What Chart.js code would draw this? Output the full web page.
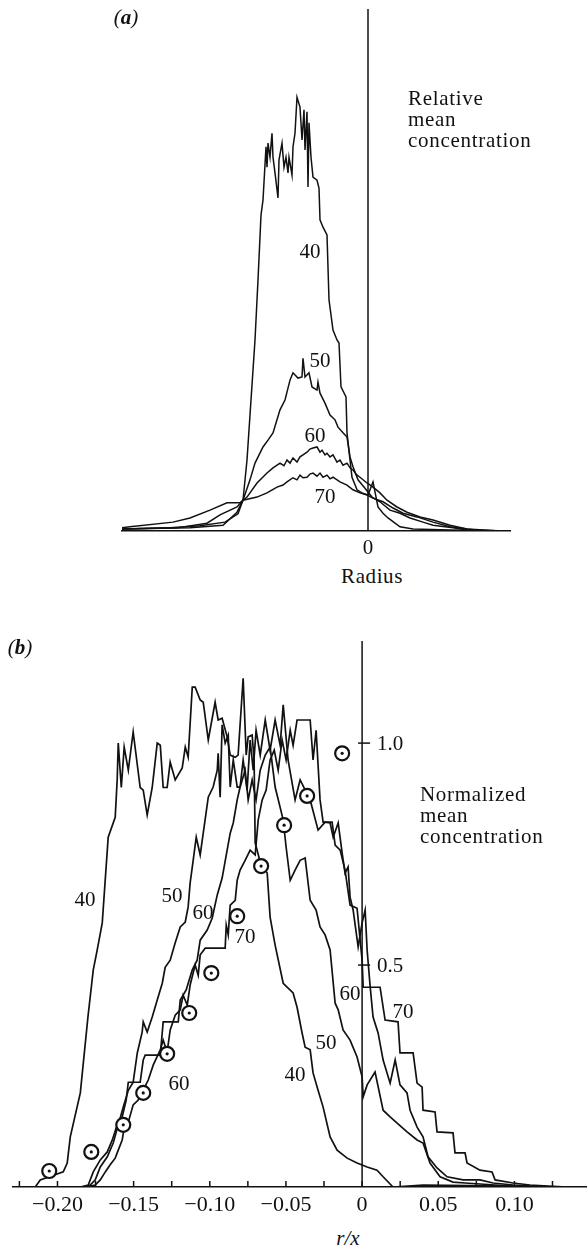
<!DOCTYPE html>
<html>
<head>
<meta charset="utf-8">
<script src="https://cdn.jsdelivr.net/npm/chart.js@4.4.0/dist/chart.umd.min.js"></script>
<style>
  body { margin: 0; background: #fff; width: 588px; height: 1251px; position: relative; overflow: hidden;
         font-family: "Liberation Serif", "Times New Roman", serif; color: #111; }
  canvas { position: absolute; left: 0; }
  #chartA { top: 0; }
  #chartB { top: 600px; }
  .lbl { position: absolute; font-size: 21px; line-height: 21px; transform: translate(-50%, -50%); white-space: nowrap; }
  .side { position: absolute; font-size: 21px; line-height: 21px; letter-spacing: 0.7px; white-space: nowrap; }
  .it { font-style: italic; }
</style>
</head>
<body>
<canvas id="chartA" width="588" height="561"></canvas>
<canvas id="chartB" width="588" height="617"></canvas>

<!-- panel (a) text -->
<div class="lbl it" style="left:126px;top:17px">(<b>a</b>)</div>
<div class="side" style="left:408px;top:88px">Relative<br>mean<br>concentration</div>
<div class="lbl" style="left:310px;top:251px">40</div>
<div class="lbl" style="left:320px;top:360px">50</div>
<div class="lbl" style="left:315px;top:435px">60</div>
<div class="lbl" style="left:325px;top:496px">70</div>
<div class="lbl" style="left:372px;top:576px;letter-spacing:0.6px">Radius</div>

<!-- panel (b) text -->
<div class="lbl it" style="left:20px;top:647px">(<b>b</b>)</div>
<div class="side" style="left:420px;top:784px">Normalized<br>mean<br>concentration</div>
<div class="lbl" style="left:85px;top:899px">40</div>
<div class="lbl" style="left:172px;top:895px">50</div>
<div class="lbl" style="left:203px;top:912px">60</div>
<div class="lbl" style="left:245px;top:936px">70</div>
<div class="lbl" style="left:179px;top:1083px">60</div>
<div class="lbl" style="left:295px;top:1074px">40</div>
<div class="lbl" style="left:326px;top:1042px">50</div>
<div class="lbl" style="left:350px;top:993px">60</div>
<div class="lbl" style="left:403px;top:1011px">70</div>
<div class="lbl it" style="left:348px;top:1238px">r/x</div>

<script>
// ---- panel (a): relative mean concentration against radius (radius in arbitrary units, 0 = axis)
const aX40 = [-2.46,-1.98,-1.68,-1.43,-1.30,-1.25,-1.21,-1.17,-1.13,-1.10,-1.07,-1.05,-1.02,-1.01,-1.00,-0.98,-0.96,-0.95,-0.93,-0.90,-0.89,-0.86,-0.84,-0.82,-0.80,-0.79,-0.76,-0.75,-0.73,-0.71,-0.68,-0.66,-0.64,-0.63,-0.61,-0.60,-0.59,-0.57,-0.55,-0.51,-0.49,-0.48,-0.45,-0.41,-0.39,-0.35,-0.31,-0.29,-0.27,-0.22,-0.21,-0.18,-0.16,-0.11,-0.06,0,0.05,0.10,0.15,0.20,0.32,0.45,0.82,1.42];
const aY40 = [0.004,0.006,0.010,0.017,0.033,0.059,0.136,0.251,0.366,0.481,0.605,0.634,0.736,0.697,0.743,0.716,0.762,0.716,0.686,0.638,0.711,0.743,0.697,0.716,0.686,0.716,0.682,0.736,0.762,0.831,0.812,0.749,0.807,0.730,0.803,0.659,0.782,0.716,0.678,0.672,0.657,0.596,0.582,0.567,0.443,0.385,0.366,0.360,0.276,0.257,0.188,0.136,0.103,0.079,0.073,0.069,0.094,0.046,0.034,0.025,0.008,0.004,0.002,0];
const aX50 = [-2.46,-1.78,-1.45,-1.31,-1.25,-1.18,-1.13,-1.05,-1.00,-0.95,-0.88,-0.83,-0.78,-0.75,-0.70,-0.66,-0.65,-0.63,-0.59,-0.56,-0.51,-0.50,-0.48,-0.43,-0.38,-0.33,-0.30,-0.25,-0.21,-0.18,-0.15,-0.10,-0.03,0.04,0.12,0.22,0.32,0.42,0.55,0.65,0.85,0.99,1.42];
const aY50 = [0.004,0.006,0.011,0.036,0.059,0.098,0.130,0.161,0.174,0.188,0.232,0.251,0.289,0.303,0.293,0.295,0.331,0.295,0.303,0.276,0.270,0.285,0.264,0.245,0.222,0.213,0.199,0.188,0.180,0.142,0.123,0.098,0.082,0.065,0.056,0.040,0.034,0.025,0.017,0.011,0.006,0.002,0];
const aX60 = [-2.46,-1.91,-1.61,-1.48,-1.31,-1.25,-1.21,-1.11,-1.01,-0.95,-0.88,-0.84,-0.81,-0.78,-0.75,-0.71,-0.68,-0.65,-0.61,-0.58,-0.55,-0.51,-0.48,-0.46,-0.43,-0.41,-0.38,-0.35,-0.31,-0.28,-0.25,-0.21,-0.18,-0.15,-0.11,-0.08,-0.01,0.05,0.12,0.19,0.29,0.39,0.52,0.65,0.82,0.99,1.15,1.42];
const aY60 = [0.004,0.006,0.015,0.031,0.046,0.059,0.065,0.092,0.111,0.121,0.130,0.125,0.136,0.130,0.140,0.132,0.142,0.146,0.151,0.157,0.159,0.161,0.151,0.155,0.146,0.149,0.142,0.146,0.132,0.136,0.126,0.130,0.121,0.117,0.107,0.103,0.092,0.084,0.073,0.059,0.046,0.036,0.027,0.021,0.011,0.004,0,0];
const aX70 = [-2.46,-2.38,-1.95,-1.78,-1.58,-1.41,-1.28,-1.25,-1.11,-1.01,-0.91,-0.85,-0.81,-0.75,-0.71,-0.68,-0.65,-0.61,-0.58,-0.55,-0.51,-0.48,-0.45,-0.41,-0.38,-0.35,-0.28,-0.21,-0.15,-0.08,-0.01,0.05,0.15,0.25,0.35,0.49,0.65,0.82,0.99,1.32,1.42];
const aY70 = [0.006,0.008,0.017,0.025,0.040,0.054,0.054,0.059,0.065,0.073,0.084,0.088,0.094,0.102,0.098,0.107,0.102,0.103,0.109,0.111,0.105,0.111,0.103,0.107,0.100,0.103,0.094,0.088,0.079,0.073,0.069,0.063,0.056,0.044,0.034,0.027,0.017,0.008,0.004,0,0];
const aTicks = [0];
const aTickLabels = ['0'];

// ---- panel (b): normalized mean concentration against r/x
const bX40 = [-0.2146,-0.2113,-0.1962,-0.1936,-0.1916,-0.1850,-0.1800,-0.1765,-0.1739,-0.1706,-0.1667,-0.1621,-0.1608,-0.1601,-0.1581,-0.1562,-0.1535,-0.1503,-0.1457,-0.1437,-0.1411,-0.1378,-0.1345,-0.1325,-0.1306,-0.1280,-0.1260,-0.1227,-0.1181,-0.1161,-0.1142,-0.1115,-0.1096,-0.1063,-0.1043,-0.1010,-0.0965,-0.0945,-0.0919,-0.0886,-0.0866,-0.0833,-0.0814,-0.0781,-0.0761,-0.0748,-0.0722,-0.0709,-0.0702,-0.0669,-0.0623,-0.0604,-0.0571,-0.0518,-0.0453,-0.0427,-0.0394,-0.0374,-0.0341,-0.0322,-0.0289,-0.0256,-0.0210,-0.0164,-0.0098,-0.0033,0.0033,0.0098,0.0138,0.0203,0.0400,0.0700,0.1000,0.1300];
const bY40 = [0,0.016,0.034,0.054,0.113,0.212,0.383,0.489,0.534,0.595,0.788,0.833,0.917,1.000,0.900,0.991,0.939,1.025,0.900,0.894,0.838,0.900,1.000,0.995,0.900,0.900,0.957,0.917,0.944,0.991,0.968,1.126,1.126,1.097,1.092,1.007,1.092,1.052,1.056,1.014,0.973,0.968,0.973,1.146,0.973,1.014,1.018,0.962,0.775,0.732,0.707,0.608,0.545,0.459,0.437,0.405,0.347,0.315,0.309,0.257,0.218,0.180,0.113,0.083,0.065,0.054,0.045,0.038,0.023,0,0.004,0.003,0.002,0];
const bX50 = [-0.1818,-0.1785,-0.1752,-0.1719,-0.1673,-0.1634,-0.1601,-0.1568,-0.1535,-0.1503,-0.1476,-0.1444,-0.1437,-0.1411,-0.1378,-0.1345,-0.1312,-0.1293,-0.1260,-0.1227,-0.1194,-0.1161,-0.1142,-0.1129,-0.1109,-0.1089,-0.1063,-0.1043,-0.1010,-0.0978,-0.0951,-0.0945,-0.0932,-0.0919,-0.0899,-0.0879,-0.0866,-0.0846,-0.0820,-0.0801,-0.0768,-0.0748,-0.0722,-0.0696,-0.0669,-0.0636,-0.0604,-0.0571,-0.0518,-0.0499,-0.0472,-0.0440,-0.0407,-0.0374,-0.0341,-0.0302,-0.0276,-0.0243,-0.0210,-0.0177,-0.0157,-0.0125,-0.0079,-0.0033,0,0.0007,0.0033,0.0085,0.0138,0.0184,0.0230,0.0295,0.0361,0.0400,0.0446,0.0512,0.0597,0.0676,0.0873,0.1102];
const bY50 = [0,0.0045,0.016,0.045,0.068,0.099,0.140,0.180,0.218,0.236,0.302,0.349,0.372,0.349,0.383,0.421,0.459,0.495,0.511,0.550,0.586,0.597,0.631,0.685,0.736,0.788,0.748,0.797,0.878,0.901,0.939,0.977,0.878,1.041,1.000,1.018,0.901,0.962,0.901,0.901,0.939,0.872,0.917,0.872,0.939,0.973,0.991,0.901,0.827,0.766,0.691,0.714,0.736,0.741,0.646,0.624,0.586,0.568,0.534,0.414,0.399,0.354,0.331,0.293,0.248,0.203,0.230,0.259,0.173,0.158,0.144,0.124,0.106,0.099,0.054,0.023,0.011,0.009,0.0045,0];
const bX60 = [-0.1850,-0.1798,-0.1765,-0.1719,-0.1673,-0.1640,-0.1608,-0.1575,-0.1549,-0.1535,-0.1457,-0.1437,-0.1424,-0.1325,-0.1306,-0.1207,-0.1194,-0.1155,-0.1115,-0.1083,-0.1063,-0.1017,-0.0984,-0.0951,-0.0919,-0.0886,-0.0866,-0.0846,-0.0820,-0.0801,-0.0781,-0.0755,-0.0735,-0.0715,-0.0696,-0.0669,-0.0636,-0.0604,-0.0571,-0.0538,-0.0518,-0.0486,-0.0440,-0.0407,-0.0341,-0.0289,-0.0243,-0.0210,-0.0190,-0.0157,-0.0131,-0.0112,-0.0092,-0.0079,-0.0059,-0.0026,0,0.0020,0.0033,0.0052,0.0072,0.0105,0.0138,0.0184,0.0217,0.0249,0.0295,0.0315,0.0361,0.0400,0.0433,0.0492,0.0558,0.0663,0.0774,0.0860,0.0991,0.1214];
const bY60 = [0,0.0045,0.034,0.061,0.079,0.106,0.140,0.158,0.196,0.236,0.236,0.286,0.297,0.297,0.372,0.372,0.421,0.444,0.489,0.511,0.556,0.579,0.606,0.658,0.696,0.759,0.797,0.820,0.872,0.901,0.962,0.894,1.007,0.939,1.029,0.973,1.052,0.984,1.052,0.995,1.086,0.962,0.872,0.917,0.872,0.804,0.822,0.820,0.788,0.820,0.752,0.707,0.721,0.653,0.624,0.541,0.595,0.624,0.534,0.455,0.383,0.347,0.286,0.234,0.286,0.230,0.212,0.173,0.135,0.113,0.068,0.043,0.023,0.016,0.016,0.009,0.0045,0];
const bX70 = [-0.1818,-0.1752,-0.1719,-0.1686,-0.1654,-0.1621,-0.1601,-0.1575,-0.1562,-0.1535,-0.1503,-0.1470,-0.1437,-0.1404,-0.1371,-0.1325,-0.1306,-0.1280,-0.1260,-0.1227,-0.1194,-0.1175,-0.1148,-0.1129,-0.1096,-0.1076,-0.1063,-0.1030,-0.0899,-0.0892,-0.0879,-0.0866,-0.0833,-0.0820,-0.0801,-0.0768,-0.0735,-0.0702,-0.0682,-0.0656,-0.0630,-0.0604,-0.0577,-0.0551,-0.0525,-0.0499,-0.0472,-0.0453,-0.0427,-0.0341,-0.0322,-0.0302,-0.0276,-0.0256,-0.0197,-0.0177,-0.0144,-0.0112,-0.0079,-0.0033,0,0.0007,0.0118,0.0151,0.0236,0.0249,0.0335,0.0361,0.0394,0.0400,0.0479,0.0492,0.0597,0.0610,0.0676,0.0689,0.0774,0.0853,0.0873,0.0991,0.1102,0.1345];
const bY70 = [0,0.0045,0.016,0.034,0.050,0.065,0.083,0.106,0.133,0.146,0.185,0.196,0.218,0.241,0.275,0.309,0.331,0.304,0.354,0.387,0.399,0.432,0.410,0.455,0.500,0.477,0.523,0.538,0.538,0.590,0.568,0.635,0.646,0.691,0.714,0.736,0.759,0.748,0.827,0.872,0.894,0.962,0.984,0.939,1.007,0.962,1.029,0.995,1.052,1.052,0.962,1.029,0.872,0.822,0.822,0.770,0.759,0.714,0.635,0.628,0.511,0.450,0.450,0.376,0.372,0.302,0.302,0.234,0.225,0.173,0.169,0.124,0.122,0.077,0.077,0.054,0.038,0.034,0.016,0.009,0.0045,0];
// circled points
const circleX = [-0.2054,-0.1778,-0.1568,-0.1437,-0.1280,-0.1135,-0.0990,-0.0820,-0.0663,-0.0512,-0.0361,-0.0131];
const circleY = [0.036,0.079,0.140,0.212,0.300,0.392,0.482,0.610,0.723,0.815,0.881,0.977];
// axis ticks
const bXTicks = [-0.225,-0.2,-0.175,-0.15,-0.125,-0.1,-0.075,-0.05,-0.025,0,0.025,0.05,0.075,0.1,0.125];
const bXLabelValues = [-0.2,-0.15,-0.1,-0.05,0,0.05,0.1];
const bXLabels = ['\u22120.20','\u22120.15','\u22120.10','\u22120.05','0','0.05','0.10'];
const bYTicks = [0.5, 1.0];
const bYLabels = ['0.5', '1.0'];

const INK = '#111';
const serif = "'Liberation Serif', 'Times New Roman', serif";

function pts(xs, ys) {
  return xs.map((x, i) => ({ x: x, y: ys[i] }));
}

function curve(xs, ys, w) {
  return { data: pts(xs, ys), borderColor: INK, borderWidth: w, pointRadius: 0, tension: 0, fill: false, order: 3 };
}

// fixed axis height, and no extra side padding for edge labels
function fitX(s) {
  s.height = 30;
  s.paddingLeft = 0;
  s.paddingRight = 0;
}

// vertical axis through r = 0, plus small inward tick marks
const centreAxis = {
  id: 'centreAxis',
  beforeDatasetsDraw(chart, args, opts) {
    const { ctx, chartArea, scales: { x, y } } = chart;
    const x0 = x.getPixelForValue(0);
    ctx.save();
    ctx.strokeStyle = INK;
    ctx.lineWidth = 1.5;
    ctx.beginPath();
    ctx.moveTo(x0, chartArea.top);
    ctx.lineTo(x0, chartArea.bottom);
    ctx.stroke();
    if (opts.xTickMarks) {
      ctx.beginPath();
      x.ticks.forEach(t => {
        const px = x.getPixelForValue(t.value);
        ctx.moveTo(px, chartArea.bottom);
        ctx.lineTo(px, chartArea.bottom - 6);
      });
      ctx.stroke();
    }
    if (opts.yTicks) {
      ctx.fillStyle = INK;
      ctx.font = '21px ' + serif;
      ctx.textBaseline = 'middle';
      ctx.textAlign = 'left';
      opts.yTicks.forEach((v, i) => {
        const py = y.getPixelForValue(v);
        ctx.beginPath();
        ctx.moveTo(x0 - 4, py);
        ctx.lineTo(x0 + 8, py);
        ctx.stroke();
        ctx.fillText(opts.yLabels[i], x0 + 15, py + 1);
      });
    }
    ctx.restore();
  }
};

// panel (a)
new Chart(document.getElementById('chartA'), {
  type: 'line',
  data: {
    datasets: [
      curve(aX40, aY40, 1.5),
      curve(aX50, aY50, 1.5),
      curve(aX60, aY60, 1.5),
      curve(aX70, aY70, 1.5)
    ]
  },
  options: {
    responsive: false,
    animation: false,
    events: [],
    layout: { autoPadding: false, padding: { left: 122, right: 78, top: 9, bottom: 0 } },
    plugins: { legend: { display: false }, tooltip: { enabled: false }, centreAxis: {} },
    scales: {
      x: {
        type: 'linear', min: -2.46, max: 1.42,
        grid: { display: false, drawTicks: false, tickLength: 0 },
        border: { display: true, color: INK, width: 1.5 },
        afterBuildTicks: s => { s.ticks = aTicks.map(v => ({ value: v })); },
        afterFit: fitX,
        ticks: {
          autoSkip: false, maxRotation: 0, padding: 5, color: INK,
          font: { family: serif, size: 21 },
          callback: v => aTickLabels[aTicks.indexOf(v)]
        }
      },
      y: { display: false, min: 0, max: 1.0 }
    }
  },
  plugins: [centreAxis]
});

// panel (b)
new Chart(document.getElementById('chartB'), {
  type: 'line',
  data: {
    datasets: [
      { data: pts(circleX, circleY), showLine: false, pointStyle: 'circle', pointRadius: 1.6,
        pointBackgroundColor: INK, pointBorderWidth: 0, order: 1 },
      { data: pts(circleX, circleY), showLine: false, pointStyle: 'circle', pointRadius: 7,
        pointBackgroundColor: '#fff', pointBorderColor: INK, pointBorderWidth: 2.2, order: 2 },
      curve(bX40, bY40, 1.7),
      curve(bX50, bY50, 1.7),
      curve(bX60, bY60, 1.7),
      curve(bX70, bY70, 1.7)
    ]
  },
  options: {
    responsive: false,
    animation: false,
    events: [],
    layout: { autoPadding: false, padding: { left: 13, right: 2, top: 41, bottom: 0 } },
    plugins: {
      legend: { display: false }, tooltip: { enabled: false },
      centreAxis: { xTickMarks: true, yTicks: bYTicks, yLabels: bYLabels }
    },
    scales: {
      x: {
        type: 'linear', min: -0.2292, max: 0.147,
        grid: { display: false, drawTicks: false, tickLength: 0 },
        border: { display: true, color: INK, width: 1.5 },
        afterBuildTicks: s => { s.ticks = bXTicks.map(v => ({ value: v })); },
        afterFit: fitX,
        ticks: {
          autoSkip: false, maxRotation: 0, padding: 5, color: INK,
          font: { family: serif, size: 22 },
          callback: v => {
            const i = bXLabelValues.findIndex(t => Math.abs(t - v) < 1e-6);
            return i < 0 ? '' : bXLabels[i];
          }
        }
      },
      y: { display: false, min: 0, max: 1.23 }
    }
  },
  plugins: [centreAxis]
});
</script>
</body>
</html>
